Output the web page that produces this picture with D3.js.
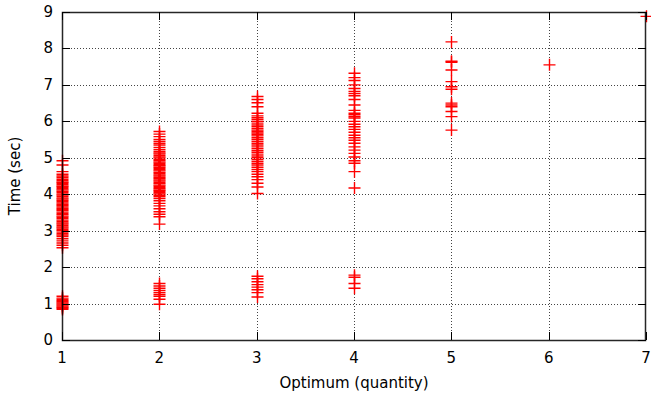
<!DOCTYPE html>
<html>
<head>
<meta charset="utf-8">
<script src="https://cdn.jsdelivr.net/npm/d3@7"></script>
<style>
  body { margin: 0; background: #fff; }
  svg { display: block; font-family: "DejaVu Sans", sans-serif; }
</style>
</head>
<body>
<div id="chart"></div>
<script>
// Time (sec) per optimum quantity
const optimum1 = [4.92, 4.80, 4.62, 4.55, 4.50, 4.46, 4.41, 4.37, 4.33, 4.30, 4.26, 4.22, 4.19, 4.15, 4.12, 4.08, 4.05, 4.01, 3.98, 3.94, 3.90, 3.87, 3.83, 3.80, 3.76, 3.72, 3.69, 3.65, 3.61, 3.58, 3.55, 3.51, 3.47, 3.44, 3.40, 3.37, 3.33, 3.29, 3.25, 3.21, 3.18, 3.14, 3.10, 3.07, 3.03, 3.00, 2.96, 2.92, 2.88, 2.84, 2.78, 2.72, 2.66, 2.60, 2.53,
  1.20, 1.15, 1.11, 1.08, 1.05, 1.02, 0.99, 0.96, 0.93, 0.90, 0.87, 0.84];
const optimum2 = [5.72, 5.65, 5.58, 5.50, 5.45, 5.40, 5.35, 5.28, 5.22, 5.17, 5.13, 5.10, 5.06, 5.02, 4.99, 4.95, 4.92, 4.88, 4.85, 4.81, 4.78, 4.74, 4.71, 4.67, 4.64, 4.60, 4.57, 4.53, 4.50, 4.46, 4.43, 4.39, 4.36, 4.32, 4.29, 4.25, 4.22, 4.18, 4.15, 4.11, 4.08, 4.04, 4.01, 3.97, 3.93, 3.88, 3.82, 3.75, 3.68, 3.60, 3.52, 3.45, 3.38, 3.18,
  1.55, 1.48, 1.42, 1.36, 1.30, 1.25, 1.20, 1.12, 0.98];
const optimum3 = [6.68, 6.60, 6.51, 6.40, 6.22, 6.15, 6.10, 6.05, 6.00, 5.95, 5.90, 5.85, 5.80, 5.76, 5.72, 5.68, 5.64, 5.60, 5.55, 5.50, 5.45, 5.40, 5.35, 5.30, 5.25, 5.20, 5.15, 5.10, 5.05, 5.00, 4.95, 4.90, 4.85, 4.80, 4.74, 4.68, 4.62, 4.55, 4.48, 4.40, 4.30, 4.20, 4.02,
  1.75, 1.68, 1.60, 1.52, 1.45, 1.38, 1.30, 1.18];
const optimum4 = [7.32, 7.20, 7.12, 7.00, 6.90, 6.82, 6.76, 6.70, 6.60, 6.45, 6.30, 6.22, 6.18, 6.13, 6.09, 6.00, 5.92, 5.85, 5.78, 5.70, 5.62, 5.55, 5.48, 5.40, 5.30, 5.21, 5.12, 5.02, 4.92, 4.85, 4.62, 4.17,
  1.78, 1.72, 1.55, 1.42];
const optimum5 = [8.18, 7.65, 7.62, 7.41, 7.09, 6.95, 6.88, 6.50, 6.45, 6.40, 6.27, 6.13, 5.76];
const optimum6 = [7.55];
const optimum7 = [8.88];

const xTicks = [1, 2, 3, 4, 5, 6, 7];
const yTicks = [0, 1, 2, 3, 4, 5, 6, 7, 8, 9];

const points = [optimum1, optimum2, optimum3, optimum4, optimum5, optimum6, optimum7]
  .flatMap((vals, i) => vals.map(v => ({ x: i + 1, y: v })));

const width = 651, height = 393;
const margin = { top: 12, right: 5, bottom: 53, left: 62 };

const svg = d3.select('#chart').append('svg')
  .attr('width', width)
  .attr('height', height);

const x = d3.scaleLinear().domain([1, 7]).range([margin.left, width - margin.right]);
const y = d3.scaleLinear().domain([0, 9]).range([height - margin.bottom, margin.top]);

const x0 = x.range()[0], x1 = x.range()[1];
const y0 = y.range()[0], y1 = y.range()[1];

// Grid
const grid = svg.append('g')
  .attr('stroke', '#444')
  .attr('stroke-width', 1)
  .attr('stroke-dasharray', '1,2');

grid.selectAll('.gx')
  .data(xTicks.slice(1, -1))
  .join('line')
  .attr('x1', d => Math.round(x(d)) + 0.5).attr('x2', d => Math.round(x(d)) + 0.5)
  .attr('y1', y0).attr('y2', y1);

grid.selectAll('.gy')
  .data(yTicks.slice(1, -1))
  .join('line')
  .attr('y1', d => Math.round(y(d)) + 0.5).attr('y2', d => Math.round(y(d)) + 0.5)
  .attr('x1', x0).attr('x2', x1);

// Points (+)
const s = 6;
const pts = svg.append('g')
  .attr('stroke', '#ff0000')
  .attr('stroke-width', 1.4)
  .attr('fill', 'none');

pts.selectAll('path')
  .data(points)
  .join('path')
  .attr('d', d => {
    const px = Math.round(x(d.x)) + 0.5, py = y(d.y);
    return `M${px - s},${py}H${px + s}M${px},${py - s}V${py + s}`;
  });

// Ticks (inward, mirrored)
const tl = 8;
const ticks = svg.append('g').attr('stroke', '#000').attr('stroke-width', 1);
xTicks.forEach(t => {
  const px = Math.round(x(t)) + 0.5;
  ticks.append('line').attr('x1', px).attr('x2', px).attr('y1', y0).attr('y2', y0 - tl);
  ticks.append('line').attr('x1', px).attr('x2', px).attr('y1', y1).attr('y2', y1 + tl);
});
yTicks.forEach(t => {
  const py = Math.round(y(t)) + 0.5;
  ticks.append('line').attr('x1', x0).attr('x2', x0 + tl).attr('y1', py).attr('y2', py);
  ticks.append('line').attr('x1', x1).attr('x2', x1 - tl).attr('y1', py).attr('y2', py);
});

// Border
svg.append('rect')
  .attr('x', x0 + 0.5).attr('y', y1 + 0.5)
  .attr('width', x1 - x0 - 1).attr('height', y0 - y1)
  .attr('fill', 'none')
  .attr('stroke', '#000')
  .attr('stroke-width', 1.5)
  .attr('stroke-opacity', 0.85);

// Tick labels
svg.append('g').selectAll('text')
  .data(xTicks)
  .join('text')
  .attr('x', d => x(d))
  .attr('y', y0 + 23)
  .attr('text-anchor', 'middle')
  .attr('font-size', 15)
  .attr('fill', '#000')
  .text(d => d);

svg.append('g').selectAll('text')
  .data(yTicks)
  .join('text')
  .attr('x', x0 - 9)
  .attr('y', d => y(d) + 5)
  .attr('text-anchor', 'end')
  .attr('font-size', 15)
  .attr('fill', '#000')
  .text(d => d);

// Axis titles
svg.append('text')
  .attr('x', (x0 + x1) / 2)
  .attr('y', height - 5)
  .attr('text-anchor', 'middle')
  .attr('font-size', 15)
  .text('Optimum (quantity)');

svg.append('text')
  .attr('transform', `translate(20,${(y0 + y1) / 2}) rotate(-90)`)
  .attr('text-anchor', 'middle')
  .attr('font-size', 15)
  .text('Time (sec)');
</script>
</body>
</html>
